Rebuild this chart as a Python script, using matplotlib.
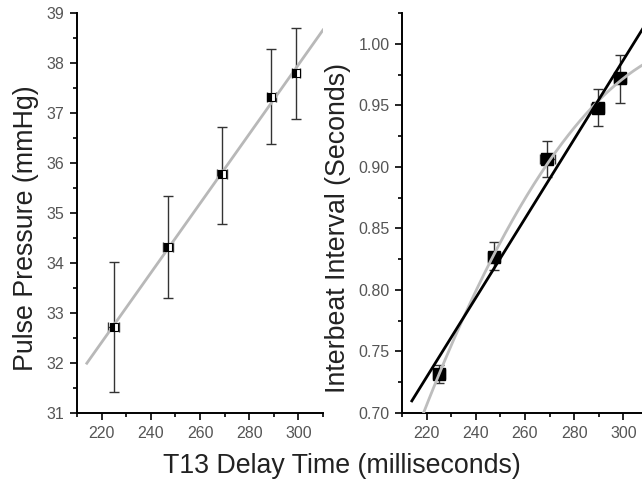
import numpy as np
import matplotlib
matplotlib.use("Agg")
import matplotlib.pyplot as plt
from matplotlib.ticker import MultipleLocator, FormatStrFormatter

plt.rcParams['font.family'] = ['Liberation Sans', 'DejaVu Sans']

# pulse pressure vs T13 delay
pp_x = [225, 247, 269, 289, 299]
pp_xerr = [2.2, 2.0, 2.0, 1.8, 1.8]
pp_y = [32.73, 34.33, 35.77, 37.33, 37.80]
pp_lo = [31.42, 33.31, 34.78, 36.39, 36.89]
pp_hi = [34.03, 35.35, 36.73, 38.27, 38.71]

# interbeat interval vs T13 delay
ibi_x = [225, 247.5, 269, 289.5, 298.5]
ibi_xerr = [2.5, 2.5, 3.0, 2.5, 2.5]
ibi_y = [0.7317, 0.8269, 0.9067, 0.9477, 0.9722]
ibi_lo = [0.724, 0.816, 0.8919, 0.933, 0.952]
ibi_hi = [0.739, 0.8389, 0.9208, 0.9635, 0.9912]

fig = plt.figure(figsize=(6.42, 4.79), dpi=100)
ax1 = fig.add_axes([77/642, 66/479, 246/642, 400/479])
ax2 = fig.add_axes([402/642, 66/479, 246/642, 400/479])

tick_col = '#555555'
for ax in (ax1, ax2):
    ax.spines['top'].set_visible(False)
    ax.spines['right'].set_visible(False)
    ax.spines['left'].set_linewidth(1.4)
    ax.spines['bottom'].set_linewidth(1.4)
    ax.set_xlim(210, 310)
    ax.xaxis.set_major_locator(MultipleLocator(20))
    ax.xaxis.set_minor_locator(MultipleLocator(10))
    ax.tick_params(which='major', length=5, width=1.2, labelsize=11.5, labelcolor=tick_col, pad=4)
    ax.tick_params(which='minor', length=3, width=1.2)

# left panel
xs = np.array(pp_x, dtype=float)
ys = np.array(pp_y)
yerr = [ys - np.array(pp_lo), np.array(pp_hi) - ys]
ax1.errorbar(xs, ys, yerr=yerr, xerr=pp_xerr, fmt='none', ecolor='#333333',
             elinewidth=1, capsize=3.5, capthick=1, zorder=2)
fit = np.polyfit(xs, ys, 1)
fx = np.linspace(214, 310, 100)
ax1.plot(fx, np.polyval(fit, fx), color='#b8b8b8', lw=2, zorder=3)
ax1.plot(xs, ys, 's', ms=5.5, mfc='black', mec='black', fillstyle='left',
         markerfacecoloralt='white', mew=0.8, zorder=4)
ax1.set_ylim(31, 39)
ax1.yaxis.set_major_locator(MultipleLocator(1))
ax1.yaxis.set_minor_locator(MultipleLocator(0.5))
ax1.set_ylabel('Pulse Pressure (mmHg)', fontsize=19.3, color='#222222', va='center')
ax1.yaxis.set_label_coords(-0.207, 0.4625)

# right panel
xs2 = np.array(ibi_x)
ys2 = np.array(ibi_y)
yerr2 = [ys2 - np.array(ibi_lo), np.array(ibi_hi) - ys2]
ax2.errorbar(xs2, ys2, yerr=yerr2, xerr=ibi_xerr, fmt='none', ecolor='#333333',
             elinewidth=1, capsize=3.5, capthick=1, zorder=2)
ax2.plot(xs2, ys2, 's', ms=8, color='black', zorder=3)
lin = np.polyfit(xs2, ys2, 1)
quad = np.polyfit(xs2, ys2, 2)
gx = np.linspace(214, 310, 200)
ax2.plot(gx, np.polyval(quad, gx), color='#bdbdbd', lw=2, zorder=4)
ax2.plot(gx, np.polyval(lin, gx), color='black', lw=2, zorder=5)
ax2.set_ylim(0.70, 1.025)
ax2.yaxis.set_major_locator(MultipleLocator(0.05))
ax2.yaxis.set_minor_locator(MultipleLocator(0.025))
ax2.yaxis.set_major_formatter(FormatStrFormatter('%.2f'))
ax2.set_ylabel('Interbeat Interval (Seconds)', fontsize=19.3, color='#222222', va='center')
ax2.yaxis.set_label_coords(-0.260, 0.4625)

fig.text(0.533, 0.0125, 'T13 Delay Time (milliseconds)', ha='center', va='baseline',
         fontsize=19.3, color='#222222')

fig.savefig('out.png', dpi=100)
